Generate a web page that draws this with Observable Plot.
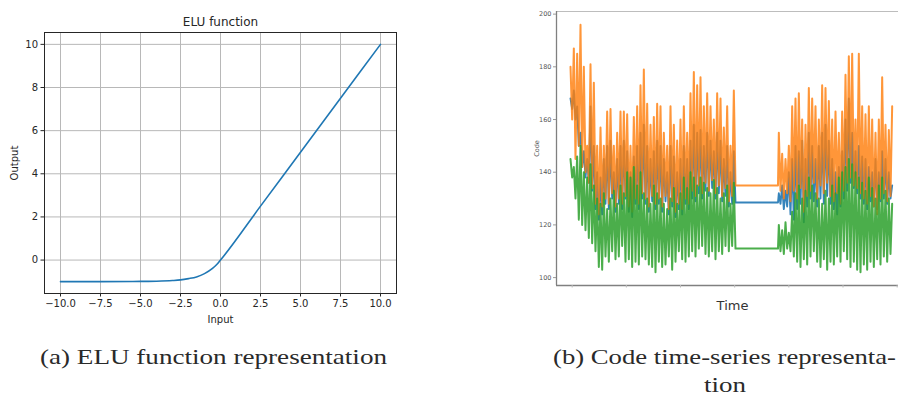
<!DOCTYPE html>
<html>
<head>
<meta charset="utf-8">
<script src="https://cdn.jsdelivr.net/npm/d3@7"></script>
<script src="https://cdn.jsdelivr.net/npm/@observablehq/plot@0.6"></script>
<style>
  html, body { margin: 0; padding: 0; background: #fff; }
  #root { position: relative; width: 898px; height: 400px; overflow: hidden; background: #fff; }
  #root > svg, #root > div { position: absolute; }
</style>
</head>
<body>
<div id="root"></div>
<script>
// ---------- Panel (a): ELU function ----------
const eluInput  = [-10, -7.5, -5, -4, -3, -2.5, -2, -1.5, -1, -0.5, -0.25, 0, 2.5, 5, 7.5, 10];
const eluOutput = [-1, -1, -0.99, -0.98, -0.95, -0.92, -0.86, -0.78, -0.63, -0.39, -0.22, 0, 2.5, 5, 7.5, 10];
const eluXTicks = [-10, -7.5, -5, -2.5, 0, 2.5, 5, 7.5, 10];
const eluYTicks = [0, 2, 4, 6, 8, 10];

// ---------- Panel (b): Code time-series ----------
const orangeSeg1 = [180,160,187,145,185,150,196,142,180,140,
                    150,136,181,134,174,128,150,124,157,127,
                    150,130,163,128,164,132,150,127,155,130,
                    163,128,163,131,162,127,150,125,161,130,
                    165,128,173,132,179,130,166,127,158,131,
                    161,128,166,130,165,127,155,131,150,126,
                    165,129,158,125,152,128,160,126,165,130,
                    155,128,170,133,178,131,173,135,176,132,
                    165,136,170,133,165,137,160,132,170,135,
                    168,131,157,134,165,129,150,131,171];
const blueSeg1   = [168,164,171,160,165,150,155,142,148,138,
                    145,136,165,133,150,126,140,122,138,124,
                    145,128,150,126,152,130,140,125,145,128,
                    150,126,152,130,148,125,140,123,146,128,
                    150,126,155,130,158,128,150,125,145,129,
                    148,126,152,128,150,125,145,129,140,124,
                    150,127,146,123,140,126,145,124,150,128,
                    145,126,152,130,158,129,155,132,156,130,
                    150,133,155,131,152,134,148,130,155,132,
                    152,129,145,131,150,127,140,128,148];
const greenSeg1  = [145,138,142,130,146,122,150,120,140,118,
                    138,115,143,113,135,110,130,104,128,103,
                    132,108,126,106,130,110,133,107,128,108,
                    135,112,132,106,140,107,138,104,142,106,
                    135,105,140,108,132,107,130,105,128,104,
                    135,102,132,106,130,104,128,105,126,108,
                    130,103,134,106,128,110,132,107,138,106,
                    134,108,140,110,138,108,135,111,138,112,
                    136,109,134,108,132,110,137,107,134,110,
                    130,109,132,112,135,110,128,112,136];
const flatValues = {orange: 135, blue: 128.5, green: 111};
const orangeSeg2 = [155,133,147,130,145,132,150,129,165,133,
                    168,130,170,134,160,125,158,131,172,133,
                    168,136,165,130,160,135,173,132,172,136,
                    167,131,160,129,163,132,155,128,163,133,
                    177,136,184,138,185,135,160,134,185,132,
                    165,130,162,128,165,131,160,127,155,124,
                    160,130,176,132,158,129,156,131,165];
const blueSeg2   = [132,128,135,126,133,127,140,124,145,122,
                    150,126,148,128,152,121,145,127,155,130,
                    150,129,145,127,150,130,155,128,158,131,
                    152,128,145,126,140,124,142,127,148,130,
                    160,133,168,136,155,134,148,132,150,130,
                    146,128,145,126,142,129,140,127,145,126,
                    140,129,148,130,145,128,140,130,135];
const greenSeg2  = [120,110,118,109,121,111,117,110,125,108,
                    132,106,135,104,130,107,133,105,138,108,
                    135,110,132,106,130,104,128,107,133,103,
                    130,106,135,105,132,108,138,106,140,110,
                    142,107,145,104,143,106,140,103,138,102,
                    136,105,133,103,138,106,134,104,130,107,
                    135,105,138,108,133,106,130,109,128];
const codeYTicks = [100, 120, 140, 160, 180, 200];
const timeTicks  = [1, 33.5, 66, 98.5, 131, 163.5, 196];
const gapStart = 99, gapEnd = 124.5, seg2Start = 125;

function buildSeries(seg1, flat, seg2) {
  const rows = seg1.map((v, i) => ({t: i, v}));
  rows.push({t: gapStart, v: flat}, {t: gapEnd, v: flat});
  seg2.forEach((v, i) => rows.push({t: seg2Start + i, v}));
  return rows;
}
const blueData   = buildSeries(blueSeg1, flatValues.blue, blueSeg2);
const orangeData = buildSeries(orangeSeg1, flatValues.orange, orangeSeg2);
const greenData  = buildSeries(greenSeg1, flatValues.green, greenSeg2);

const root = document.getElementById("root");

// Panel (a)
const eluData = eluInput.map((x, i) => ({x, y: eluOutput[i]}));
const fmt = d => (d < 0 ? "\u2212" : "") + Math.abs(d).toFixed(1);
const plotA = Plot.plot({
  width: 410, height: 330,
  marginLeft: 44, marginRight: 14, marginTop: 32, marginBottom: 37,
  x: {domain: [-11, 11]},
  y: {domain: [-1.55, 10.55]},
  style: {fontFamily: "DejaVu Sans", fontSize: "10px", color: "#262626", background: "transparent"},
  marks: [
    Plot.gridX(eluXTicks, {stroke: "#b8b8b8", strokeOpacity: 1, strokeWidth: 1}),
    Plot.gridY(eluYTicks, {stroke: "#b8b8b8", strokeOpacity: 1, strokeWidth: 1}),
    Plot.frame({stroke: "#262626", strokeWidth: 1}),
    Plot.line(eluData, {x: "x", y: "y", stroke: "#1f77b4", strokeWidth: 1.6, curve: "monotone-x"}),
    Plot.axisX(eluXTicks, {tickSize: 3.5, tickPadding: 3, tickFormat: fmt, label: "Input",
      labelAnchor: "center", labelArrow: "none", labelOffset: 29}),
    Plot.axisY(eluYTicks, {tickSize: 3.5, tickPadding: 3, label: "Output",
      labelAnchor: "center", labelArrow: "none", labelOffset: 34}),
    Plot.text(["ELU function"], {frameAnchor: "top", dy: -7, lineAnchor: "bottom", fontSize: 12, fill: "#262626"})
  ]
});
plotA.style.left = "0px"; plotA.style.top = "0px";
root.appendChild(plotA);

// Panel (b)
const plotB = Plot.plot({
  width: 388, height: 320,
  marginLeft: 36, marginRight: 0, marginTop: 11, marginBottom: 35,
  x: {domain: [-8.4, 202.8]},
  y: {domain: [97, 201]},
  style: {fontFamily: "DejaVu Sans", fontSize: "6px", color: "#555", background: "transparent"},
  marks: [
    Plot.ruleY([201], {stroke: "#bdbdbd", strokeWidth: 1.2}),
    Plot.line(blueData,   {x: "t", y: "v", stroke: "#1f77b4", strokeWidth: 1.9, strokeOpacity: 0.9}),
    Plot.line(orangeData, {x: "t", y: "v", stroke: "#ff7f0e", strokeWidth: 2, strokeOpacity: 0.82}),
    Plot.line(greenData,  {x: "t", y: "v", stroke: "#2ca02c", strokeWidth: 2, strokeOpacity: 0.85}),
    Plot.ruleX([-8.4], {stroke: "#808080", strokeWidth: 1.3}),
    Plot.ruleY([97], {stroke: "#808080", strokeWidth: 1.3}),
    Plot.axisY(codeYTicks, {tickSize: 3, tickPadding: 2, stroke: "#999", fill: "#555", fontSize: 6.5,
      label: "Code", labelAnchor: "center", labelArrow: "none", labelOffset: 22}),
    Plot.axisX(timeTicks, {tickSize: 2.5, tickFormat: () => "", stroke: "#bbb",
      label: "Time", labelAnchor: "center", labelArrow: "none", labelOffset: 24,
      fontSize: 13, fill: "#333"})
  ]
});
plotB.style.left = "520px"; plotB.style.top = "0px";
root.appendChild(plotB);

// Captions
const ns = "http://www.w3.org/2000/svg";
const cap = document.createElementNS(ns, "svg");
cap.setAttribute("width", 898); cap.setAttribute("height", 400);
cap.style.left = "0px"; cap.style.top = "0px"; cap.style.pointerEvents = "none";
const captions = [
  {text: "(a) ELU function representation", x: 40, y: 364, w: 347},
  {text: "(b) Code time-series representa-", x: 553, y: 364, w: 343},
  {text: "tion", x: 704, y: 392, w: 42}
];
captions.forEach(c => {
  const t = document.createElementNS(ns, "text");
  t.setAttribute("x", c.x); t.setAttribute("y", c.y);
  t.setAttribute("textLength", c.w); t.setAttribute("lengthAdjust", "spacingAndGlyphs");
  t.setAttribute("font-family", "'Liberation Serif'");
  t.setAttribute("font-size", "22");
  t.setAttribute("fill", "#2a2a2a");
  t.textContent = c.text;
  cap.appendChild(t);
});
root.appendChild(cap);
</script>
</body>
</html>
